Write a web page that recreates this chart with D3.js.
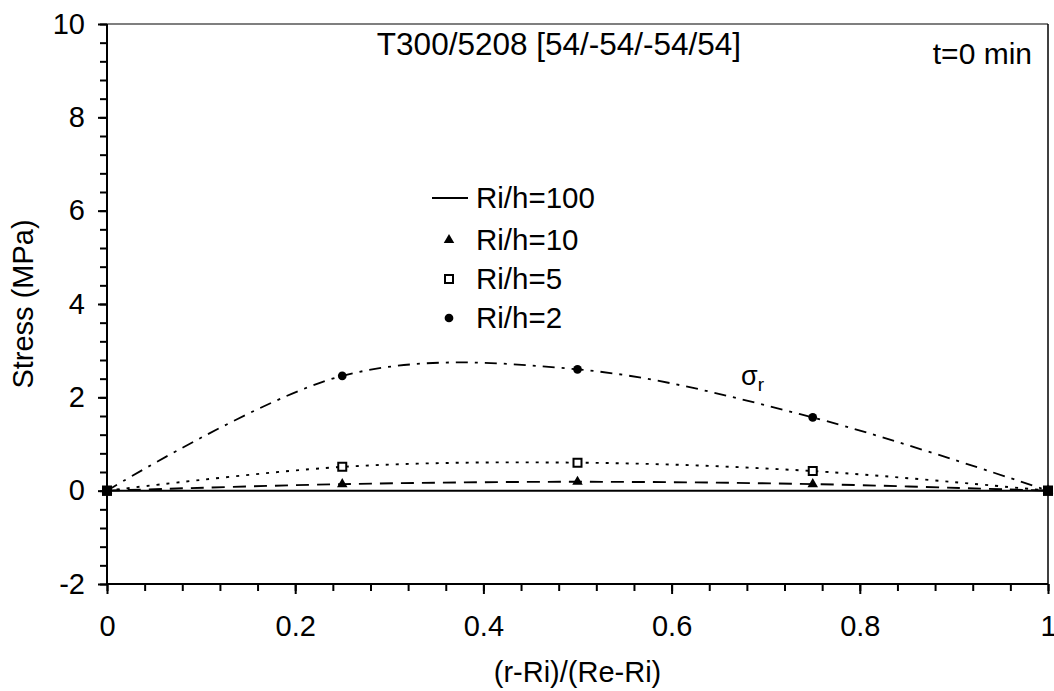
<!DOCTYPE html>
<html><head><meta charset="utf-8">
<script src="https://cdn.jsdelivr.net/npm/d3@7"></script>
<style>
body{margin:0;background:#fff}
text{font-family:"Liberation Sans",Arial,Helvetica,sans-serif;fill:#000}
</style>
</head><body><svg id="c" width="1054" height="691"></svg>
<script>
// ---- data ----
const xPos = [0, 0.25, 0.5, 0.75, 1];
const seriesNames = ["Ri/h=100", "Ri/h=10", "Ri/h=5", "Ri/h=2"];
const s100 = [0, 0, 0, 0, 0];
const s10 = [0, 0.14, 0.19, 0.14, 0];
const s5 = [0, 0.51, 0.60, 0.42, 0];
const s2 = [0, 2.46, 2.60, 1.57, 0];
const xTicks = [0, 0.2, 0.4, 0.6, 0.8, 1];
const xTickLabels = ["0", "0.2", "0.4", "0.6", "0.8", "1"];
const yTicks = [-2, 0, 2, 4, 6, 8, 10];
const yTickLabels = ["-2", "0", "2", "4", "6", "8", "10"];
const titleText = "T300/5208 [54/-54/-54/54]";
const timeText = "t=0 min";
const xTitle = "(r-Ri)/(Re-Ri)";
const yTitle = "Stress (MPa)";
const curveLabel = "σ";
const curveLabelSub = "r";

// ---- scales ----
const svg = d3.select("#c");
const x = d3.scaleLinear().domain([0, 1]).range([107, 1048]);
const y = d3.scaleLinear().domain([-2, 10]).range([584, 24]);
const FS = 29;

// frame (top & right)
svg.append("line").attr("x1", x(0)).attr("x2", x(1)).attr("y1", y(10)).attr("y2", y(10))
  .attr("stroke", "#000").attr("stroke-width", 1.2);
svg.append("line").attr("x1", x(1)).attr("x2", x(1)).attr("y1", y(10)).attr("y2", y(-2))
  .attr("stroke", "#000").attr("stroke-width", 1.5);

// minor ticks
const yMinor = d3.range(-2, 10.001, 0.4);
const xMinor = d3.range(0, 1.0001, 0.04);
const gyMinor = svg.append("g").attr("transform", `translate(${x(0)},0)`)
  .call(d3.axisLeft(y).tickValues(yMinor).tickSize(7).tickFormat(""));
const gxMinor = svg.append("g").attr("transform", `translate(0,${y(-2)})`)
  .call(d3.axisBottom(x).tickValues(xMinor).tickSize(7).tickFormat(""));

// major axes
const gy = svg.append("g").attr("transform", `translate(${x(0)},0)`)
  .call(d3.axisLeft(y).tickValues(yTicks).tickSize(9).tickPadding(13)
    .tickFormat(d => yTickLabels[yTicks.indexOf(d)]));
const gx = svg.append("g").attr("transform", `translate(0,${y(-2)})`)
  .call(d3.axisBottom(x).tickValues(xTicks).tickSize(10).tickPadding(21)
    .tickFormat(d => xTickLabels[xTicks.indexOf(d)]));

[gyMinor, gxMinor, gy, gx].forEach(g => {
  g.selectAll("path.domain").attr("stroke", "#000").attr("stroke-width", 2);
  g.selectAll(".tick line").attr("stroke", "#000").attr("stroke-width", 2);
  g.selectAll("text").attr("font-size", FS).attr("font-family", '"Liberation Sans",Arial,sans-serif').attr("fill", "#000");
});
gy.selectAll("path.domain").attr("d", `M0,${y(-2)}V${y(10)}`);
gx.selectAll("path.domain").attr("d", `M${x(0)},0H${x(1)}`);
gyMinor.selectAll("path.domain").remove();
gxMinor.selectAll("path.domain").remove();

// ---- series ----
const line = d3.line().x(d => x(d[0])).y(d => y(d[1])).curve(d3.curveCardinal.tension(0));
const zip = v => xPos.map((p, i) => [p, v[i]]);

svg.append("path").attr("d", line(zip(s100))).attr("fill", "none").attr("stroke", "#000").attr("stroke-width", 2);
svg.append("path").attr("d", line(zip(s10))).attr("fill", "none").attr("stroke", "#000").attr("stroke-width", 1.9).attr("stroke-dasharray", "13,8");
svg.append("path").attr("d", line(zip(s5))).attr("fill", "none").attr("stroke", "#000").attr("stroke-width", 1.9).attr("stroke-dasharray", "3,7");
svg.append("path").attr("d", line(zip(s2))).attr("fill", "none").attr("stroke", "#000").attr("stroke-width", 1.8).attr("stroke-dasharray", "12,7,3,7");

const tri = d3.symbol().type(d3.symbolTriangle).size(48);
const sq = d3.symbol().type(d3.symbolSquare).size(64);
const circ = d3.symbol().type(d3.symbolCircle).size(60);

svg.append("g").selectAll("path").data(zip(s5)).join("path")
  .attr("d", sq).attr("transform", d => `translate(${x(d[0])},${y(d[1])})`)
  .attr("fill", "#fff").attr("stroke", "#000").attr("stroke-width", 2);
svg.append("g").selectAll("path").data(zip(s10)).join("path")
  .attr("d", tri).attr("transform", d => `translate(${x(d[0])},${y(d[1])})`).attr("fill", "#000");
svg.append("g").selectAll("path").data(zip(s2)).join("path")
  .attr("d", circ).attr("transform", d => `translate(${x(d[0])},${y(d[1])})`).attr("fill", "#000");
// endpoint overlap blobs
svg.append("g").selectAll("rect").data([xPos[0], xPos[xPos.length - 1]]).join("rect")
  .attr("x", d => x(d) - 5).attr("y", y(0) - 5).attr("width", 10).attr("height", 10).attr("fill", "#000");

// ---- texts ----
svg.append("text").attr("x", 559).attr("y", 55).attr("text-anchor", "middle").attr("font-size", 31.5).text(titleText);
svg.append("text").attr("x", 1032).attr("y", 64).attr("text-anchor", "end").attr("font-size", 30).text(timeText);
svg.append("text").attr("x", (x(0) + x(1)) / 2).attr("y", 682).attr("text-anchor", "middle").attr("font-size", FS).text(xTitle);
svg.append("text").attr("transform", `translate(33,${(y(-2) + y(10)) / 2}) rotate(-90)`).attr("text-anchor", "middle").attr("font-size", FS).text(yTitle);

const cl = svg.append("text").attr("x", 741).attr("y", 385).attr("font-size", 27);
cl.append("tspan").text(curveLabel);
cl.append("tspan").attr("font-size", 19).attr("dy", 6).text(curveLabelSub);

// ---- legend ----
const legY = [198, 240, 279, 318];
const lg = svg.append("g");
lg.append("line").attr("x1", 432).attr("x2", 468).attr("y1", legY[0]).attr("y2", legY[0]).attr("stroke", "#000").attr("stroke-width", 2);
lg.append("path").attr("d", tri).attr("transform", `translate(449,${legY[1]})`).attr("fill", "#000");
lg.append("path").attr("d", sq).attr("transform", `translate(449,${legY[2]})`).attr("fill", "#fff").attr("stroke", "#000").attr("stroke-width", 2);
lg.append("path").attr("d", circ).attr("transform", `translate(449,${legY[3]})`).attr("fill", "#000");
lg.selectAll("text").data(seriesNames).join("text")
  .attr("x", 476).attr("y", (d, i) => legY[i] + 9.5).attr("font-size", 29.5).text(d => d);
</script>
</body></html>
